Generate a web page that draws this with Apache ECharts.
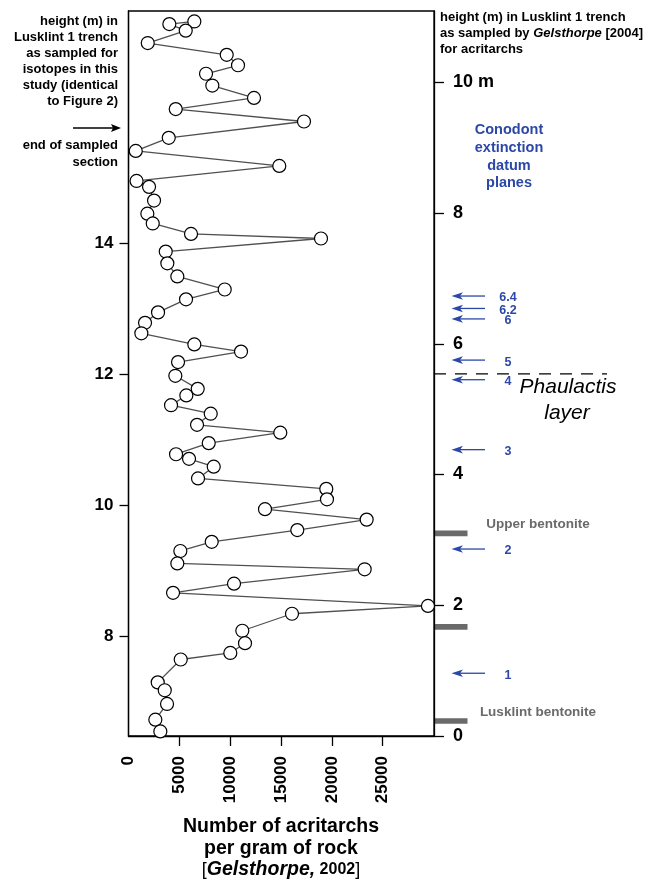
<!DOCTYPE html>
<html><head><meta charset="utf-8">
<script src="https://cdn.jsdelivr.net/npm/echarts@6/dist/echarts.min.js"></script>
<style>html,body{margin:0;padding:0;background:#fff}#c{width:650px;height:881px}</style>
</head><body><div id="c"></div>
<script>
// Sample heights (m, left axis: isotope-study heights) and acritarch counts
const heights = [17.40,17.36,17.26,17.07,16.89,16.73,16.60,16.42,16.23,16.06,15.87,15.62,15.42,15.19,14.96,14.87,14.66,14.46,14.31,14.15,14.08,13.88,13.70,13.50,13.30,13.15,12.95,12.79,12.63,12.46,12.35,12.19,11.98,11.78,11.68,11.53,11.40,11.23,11.11,10.95,10.78,10.71,10.59,10.41,10.25,10.09,9.94,9.78,9.62,9.44,9.30,9.11,9.02,8.80,8.66,8.46,8.34,8.08,7.89,7.74,7.64,7.29,7.17,6.96,6.72,6.54];
const acritarchs = [6475,4017,5629,1893,9661,10772,7625,8245,12345,4646,17262,3958,713,14833,792,2021,2512,1854,2385,6151,18934,3663,3820,4803,9464,5659,2906,1627,1264,6475,11067,4872,4607,6809,5688,4184,8088,6741,14931,7891,4676,5954,8383,6839,19455,19523,13427,23427,16603,8186,5098,4803,23230,10379,4381,29455,16082,11195,11460,10015,5138,2876,3565,3791,2640,3132];
const xTicks = [0,5000,10000,15000,20000,25000];
const leftTicks = [8,10,12,14];
const rightTicks = [0,2,4,6,8,10];
// Right-axis (Gelsthorpe heights) annotations
const datumNames = ['6.4','6.2','6','5','4','3','2','1'];
const datumHeights = [6.73,6.54,6.38,5.75,5.45,4.38,2.86,0.96];
const bentoniteHeights = [3.10,1.67,0.23];
const bentoniteNames = ['Upper bentonite','','Lusklint bentonite'];
const phaulactisHeight = 5.54;

const FONT = '"Liberation Sans", Arial, Helvetica, sans-serif';
const X_MAX = 30050, L_MIN = 6.47, L_MAX = 17.56, R_MAX = 11.09;
const BLUE = '#2c48a6', GREY = '#6a6a6a';

const chart = echarts.init(document.getElementById('c'));
chart.setOption({
  animation: false,
  grid: {left: 128.5, right: 216, top: 11, bottom: 145, show: true, borderColor: '#000', borderWidth: 1.3},
  xAxis: {
    type: 'value', min: 0, max: X_MAX,
    axisLine: {show: true, lineStyle: {color: '#000', width: 1.3}},
    axisTick: {show: true, customValues: xTicks.filter(v => v > 0), length: 10, lineStyle: {color: '#000', width: 1.3}},
    axisLabel: {customValues: xTicks, rotate: 90, margin: 20, fontFamily: FONT, fontWeight: 'bold', fontSize: 17, color: '#000',
      formatter: v => String(v)},
    splitLine: {show: false}
  },
  yAxis: [{
    type: 'value', min: L_MIN, max: L_MAX, position: 'left',
    axisLine: {show: true, lineStyle: {color: '#000', width: 1.3}},
    axisTick: {show: true, customValues: leftTicks, length: 9, lineStyle: {color: '#000', width: 1.3}},
    axisLabel: {customValues: leftTicks, margin: 15, fontFamily: FONT, fontWeight: 'bold', fontSize: 17, color: '#000'},
    splitLine: {show: false}
  }, {
    type: 'value', min: 0, max: R_MAX, position: 'right',
    axisLine: {show: true, lineStyle: {color: '#000', width: 1.3}},
    axisTick: {show: true, customValues: rightTicks, length: 10, lineStyle: {color: '#000', width: 1.3}},
    axisLabel: {customValues: rightTicks, margin: 19, fontFamily: FONT, fontWeight: 'bold', fontSize: 18, color: '#000',
      formatter: v => v === 10 ? '10 m' : String(v)},
    splitLine: {show: false}
  }],
  series: [{
    type: 'line', yAxisIndex: 0,
    data: heights.map((h, i) => [acritarchs[i], h]),
    symbol: 'circle', symbolSize: 13,
    itemStyle: {color: '#fff', borderColor: '#000', borderWidth: 1.2},
    lineStyle: {color: '#505050', width: 1.3},
    z: 3
  }]
});

const py = v => chart.convertToPixel({yAxisIndex: 1}, v);
const xr = chart.convertToPixel({xAxisIndex: 0}, X_MAX);
const g = [];
const txt = (x, y, text, o) => g.push(Object.assign({type: 'text', x, y, style: Object.assign({text, fontFamily: FONT, fontWeight: 'bold', fontSize: 13, fill: '#000', textAlign: 'left', textVerticalAlign: 'middle'}, o || {})}));

// top-left note
['height (m) in', 'Lusklint 1 trench', 'as sampled for', 'isotopes in this', 'study (identical', 'to Figure 2)']
  .forEach((t, i) => txt(118, 21.5 + i * 16, t, {textAlign: 'right'}));
// black arrow
g.push({type: 'line', shape: {x1: 73, y1: 128, x2: 114, y2: 128}, style: {stroke: '#000', lineWidth: 1.5}});
g.push({type: 'polygon', shape: {points: [[121, 128], [111, 124], [113, 128], [111, 132]]}, style: {fill: '#000'}});
txt(118, 145.5, 'end of sampled', {textAlign: 'right'});
txt(118, 162, 'section', {textAlign: 'right'});

// top-right note
txt(440, 17.5, 'height (m) in Lusklint 1 trench');
g.push({type: 'text', x: 440, y: 33.5, style: {
  text: '{a|as sampled by }{b|Gelsthorpe}{a| [2004]}', textVerticalAlign: 'middle',
  rich: {a: {fontFamily: FONT, fontWeight: 'bold', fontSize: 13, fill: '#000'},
         b: {fontFamily: FONT, fontWeight: 'bold', fontStyle: 'italic', fontSize: 13, fill: '#000'}}}});
txt(440, 49.5, 'for acritarchs');

// Conodont block
['Conodont', 'extinction', 'datum', 'planes'].forEach((t, i) => txt(509, 130 + i * 17.8, t, {textAlign: 'center', fill: BLUE, fontSize: 14.5}));

// datum arrows
datumHeights.forEach((h, i) => {
  const y = py(h);
  g.push({type: 'line', shape: {x1: 458, y1: y, x2: 485, y2: y}, style: {stroke: BLUE, lineWidth: 1.3}});
  g.push({type: 'polygon', shape: {points: [[451.5, y], [463, y - 3.8], [460, y], [463, y + 3.8]]}, style: {fill: BLUE}});
  txt(508, y + 2, datumNames[i], {textAlign: 'center', fill: BLUE, fontSize: 12.5});
});

// bentonites
bentoniteHeights.forEach((h, i) => {
  const y = py(h);
  g.push({type: 'rect', shape: {x: xr + 0.5, y: y - 2.8, width: 33, height: 5.6}, style: {fill: GREY}});
  if (bentoniteNames[i]) txt(538, y - 9, bentoniteNames[i], {textAlign: 'center', fill: GREY, fontSize: 13.5});
});

// Phaulactis layer
const yp = py(phaulactisHeight);
g.push({type: 'line', shape: {x1: xr, y1: yp, x2: 607, y2: yp}, style: {stroke: '#000', lineWidth: 1.2, lineDash: [12, 9]}});
txt(568, 387, 'Phaulactis', {textAlign: 'center', fontWeight: 'normal', fontStyle: 'italic', fontSize: 21});
txt(567, 413, 'layer', {textAlign: 'center', fontWeight: 'normal', fontStyle: 'italic', fontSize: 21});

// x-axis title
txt(281, 827, 'Number of acritarchs', {textAlign: 'center', fontSize: 19.5});
txt(281, 848.5, 'per gram of rock', {textAlign: 'center', fontSize: 19.5});
g.push({type: 'text', x: 281, y: 870, style: {
  text: '{n|[}{i|Gelsthorpe,}{s| 2002}{n|]}', textAlign: 'center', textVerticalAlign: 'middle',
  rich: {n: {fontFamily: FONT, fontSize: 18, fill: '#000'},
         i: {fontFamily: FONT, fontWeight: 'bold', fontStyle: 'italic', fontSize: 19.5, fill: '#000'},
         s: {fontFamily: FONT, fontWeight: 'bold', fontSize: 16, fill: '#000'}}}});

chart.setOption({graphic: g});
</script>
</body></html>
